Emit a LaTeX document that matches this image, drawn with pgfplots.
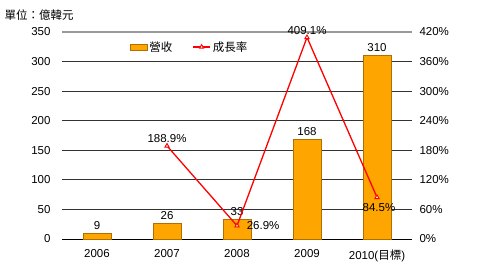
\documentclass[border=0pt]{standalone}
\usepackage{pgfplots}
\pgfplotsset{compat=1.18}
\usepackage{fontspec}
\setmainfont{Liberation Sans}
\newfontfamily\cjk{Noto Sans CJK TC}
\definecolor{barfill}{RGB}{255,165,0}
\definecolor{baredge}{RGB}{176,112,0}
\definecolor{gridc}{RGB}{50,50,50}
\definecolor{linered}{RGB}{255,0,0}
\newcommand{\fs}{\fontsize{11.5}{13}\selectfont}
\begin{document}
\begin{tikzpicture}[x=1pt,y=1pt,font=\fs]
\useasboundingbox (-62,-26) rectangle (419,239);
\node[anchor=west,font=\fs\cjk] at (-61,224) {單位：億韓元};
\begin{axis}[
  at={(0,0)}, anchor=south west, scale only axis, width=350pt, height=207pt,
  /pgf/number format/assume math mode=true,
  xmin=-0.5, xmax=4.5, ymin=0, ymax=350,
  xtick={0,1,2,3,4},
  xticklabels={2006,2007,2008,2009,{2010({\cjk 目標})}},
  ytick={0,50,...,300},
  extra y ticks={350},
  extra y tick style={grid style={gray!80,line width=1.4pt}},
  major tick length=0pt,
  axis x line*=bottom, axis y line*=left,
  x axis line style={-,black,line width=0.9pt},
  y axis line style={draw=none},
  ymajorgrids, grid style={gridc,line width=0.8pt},
  tick label style={font=\fs},
  xticklabel style={yshift=-7pt},
  yticklabel style={xshift=-8pt},
  clip=false,
]
\addplot[ybar, bar width=28pt, fill=barfill, draw=baredge, line width=0.6pt,
  nodes near coords={\pgfmathprintnumber{\pgfplotspointmeta}},
  every node near coord/.append style={font=\fs, yshift=0pt}]
  coordinates {(0,9) (1,26) (2,33) (3,168) (4,310)};
\end{axis}
\begin{axis}[
  at={(0,0)}, anchor=south west, scale only axis, width=350pt, height=207pt,
  /pgf/number format/assume math mode=true,
  xmin=-0.5, xmax=4.5, ymin=0, ymax=420,
  ytick={0,60,...,420},
  yticklabel={\pgfmathprintnumber{\tick}\%},
  major tick length=0pt,
  axis y line*=right, axis x line=none,
  y axis line style={draw=none},
  tick label style={font=\fs},
  yticklabel style={xshift=4pt},
  clip=false,
  legend style={at={(0.185,0.975)}, anchor=north west, draw=none, fill=none,
    font=\fs\cjk, legend columns=2, /tikz/every even column/.append style={column sep=18pt}},
]
\addlegendimage{area legend, fill=barfill, draw=baredge}
\addlegendentry{營收}
\addplot[linered, line width=1.3pt, mark=triangle*,
  mark options={fill=white, draw=linered, line width=0.9pt, scale=1.2},
  point meta=explicit,
  nodes near coords={\pgfmathprintnumber[fixed,precision=1,fixed zerofill]{\pgfplotspointmeta}\%},
  visualization depends on={value \thisrow{anc}\as\anc},
  visualization depends on={\thisrow{dx}\as\dx},
  visualization depends on={\thisrow{dy}\as\dy},
  every node near coord/.append style={font=\fs, anchor=\anc, black, xshift=\dx pt, yshift=\dy pt}]
  table[x=x, y=y, meta=y] {
x y anc dx dy
1 188.9 south 0 0
2 26.9 west 6 0
3 409.1 south 0 -1
4 84.5 north 2 -2
};
\addlegendentry{成長率}
\end{axis}
\end{tikzpicture}
\end{document}
